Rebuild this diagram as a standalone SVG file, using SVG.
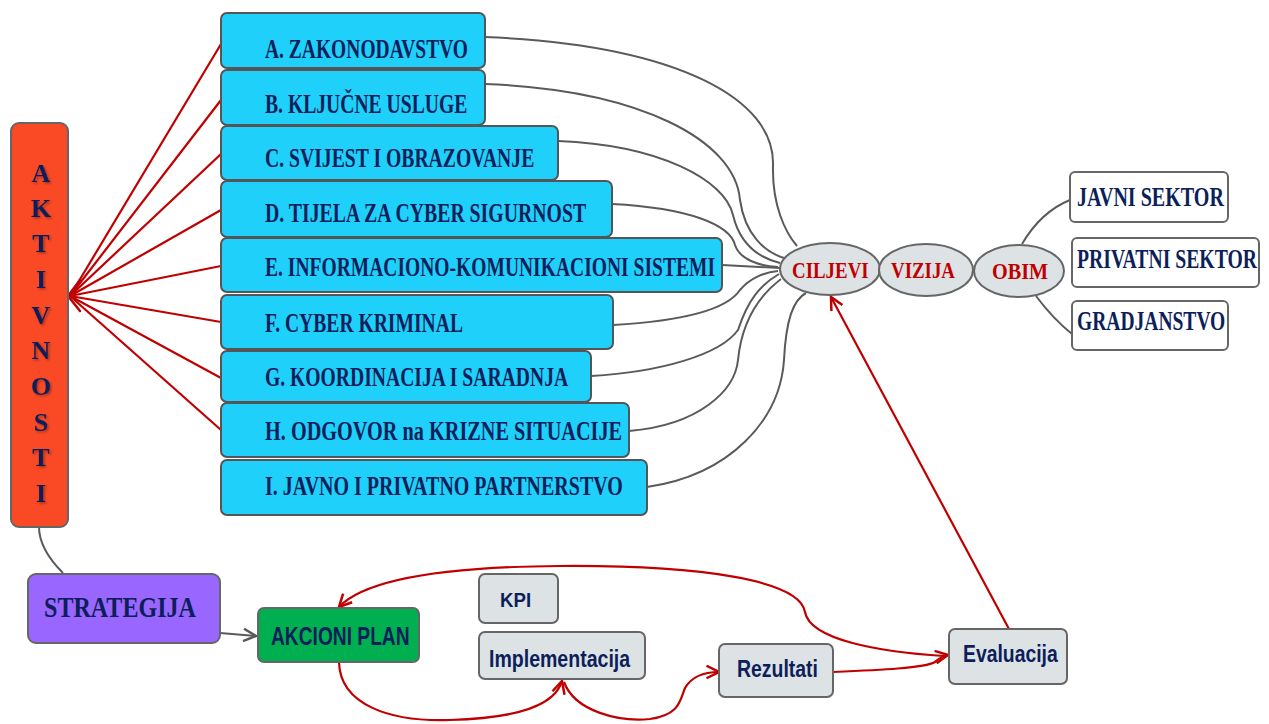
<svg xmlns="http://www.w3.org/2000/svg" width="1269" height="724" viewBox="0 0 1269 724">
<defs>
<style>
.cy{fill:#1fd0fb;stroke:#555;stroke-width:2}
.gr{fill:#dde2e5;stroke:#666;stroke-width:2}
.wh{fill:#fff;stroke:#666;stroke-width:2}
.st{font-family:"Liberation Serif","Times New Roman",serif;font-weight:bold;fill:#0c1f5a}
.ss{font-family:"Liberation Sans",Arial,sans-serif;font-weight:bold;fill:#0c1f5a}
.rt{font-family:"Liberation Serif","Times New Roman",serif;font-weight:bold;fill:#c00000}
.gl{fill:none;stroke:#5a5a5a;stroke-width:2}
.rl{fill:none;stroke:#c00000;stroke-width:2.2}
.ah{fill:none;stroke:#c00000;stroke-width:2.5;stroke-linecap:round;stroke-linejoin:round}
</style>
<marker id="ar" viewBox="0 0 12 12" refX="11" refY="6" markerWidth="15" markerHeight="15" markerUnits="userSpaceOnUse" orient="auto">
<path d="M1,1 L11,6 L1,11" fill="none" stroke="#c00000" stroke-width="2"/>
</marker>
<marker id="ag" viewBox="0 0 12 12" refX="11" refY="6" markerWidth="15" markerHeight="15" markerUnits="userSpaceOnUse" orient="auto">
<path d="M1,1 L11,6 L1,11" fill="none" stroke="#5a5a5a" stroke-width="2"/>
</marker>
<filter id="sh" x="-20%" y="-20%" width="140%" height="140%">
<feDropShadow dx="1.5" dy="1.5" stdDeviation="1" flood-color="#000" flood-opacity="0.35"/>
</filter>
</defs>
<rect width="1269" height="724" fill="#fff"/>

<g id="connectors">
<path class="rl" d="M221,44 L70,296"/>
<path class="rl" d="M221,100 L70,296"/>
<path class="rl" d="M221,154 L70,296"/>
<path class="rl" d="M221,210 L70,296"/>
<path class="rl" d="M221,266 L70,296"/>
<path class="rl" d="M221,322 L70,296"/>
<path class="rl" d="M221,378 L70,296"/>
<path class="rl" d="M221,430 L70,296"/>
<path class="ah" d="M80,280 L68,296 L80,311"/>

<path class="gl" d="M485,37 C680,45 775,100 773,165 C772,205 785,232 797,246"/>
<path class="gl" d="M485,84 C640,90 735,140 740,200 C745,235 765,252 784,258"/>
<path class="gl" d="M558,141 C660,145 725,180 733,215 C740,245 760,258 780,263"/>
<path class="gl" d="M612,204 C690,208 730,225 735,245 C740,260 760,266 778,267"/>
<path class="gl" d="M722,265 L780,268"/>
<path class="gl" d="M613,325 C700,320 730,305 740,290 C750,278 765,272 778,271"/>
<path class="gl" d="M591,376 C660,372 720,355 738,330 C748,300 760,285 779,274"/>
<path class="gl" d="M629,431 C700,425 735,390 738,360 C742,320 760,295 781,279"/>
<path class="gl" d="M647,487 C730,475 780,420 784,360 C786,320 793,300 806,293"/>

<path class="gl" d="M1022,244 C1035,222 1050,208 1070,200"/>
<path class="gl" d="M1036,296 C1048,312 1062,326 1072,334"/>

<path class="gl" d="M39,527 C39,545 50,560 63,573"/>
<path class="gl" d="M220,633 L256,636" marker-end="url(#ag)"/>

<path class="rl" d="M1009,629 L831,297" marker-end="url(#ar)"/>
<path class="rl" d="M944,656 C880,652 810,640 805,612 C800,580 700,565 560,566 C420,567 360,585 339,607" marker-end="url(#ar)"/>
<path class="rl" d="M339,662 C340,705 390,722 450,720 C520,718 555,705 562,681" marker-end="url(#ar)"/>
<path class="rl" d="M564,682 C575,712 620,722 650,719 C680,715 680,700 685,688 C692,676 705,672 719,672" marker-end="url(#ar)"/>
<path class="rl" d="M833,672 C880,670 925,668 935,662 C940,658 942,656 948,655" marker-end="url(#ar)"/>
</g>

<g id="aktivnosti">
<rect x="11" y="123" width="57" height="404" rx="8" fill="#f94a25" stroke="#666" stroke-width="2"/>
<g class="st" font-size="26" text-anchor="middle" filter="url(#sh)" fill="#10244a">
<text x="41" y="182">A</text>
<text x="41" y="217">K</text>
<text x="41" y="252">T</text>
<text x="41" y="288">I</text>
<text x="41" y="324">V</text>
<text x="41" y="359">N</text>
<text x="41" y="395">O</text>
<text x="41" y="431">S</text>
<text x="41" y="466">T</text>
<text x="41" y="502">I</text>
</g>
</g>

<g id="box-a"><rect class="cy" x="221" y="13" width="264" height="55" rx="6"/><text class="st" transform="translate(265,58) scale(0.72,1)" font-size="27" textLength="282" lengthAdjust="spacingAndGlyphs">A. ZAKONODAVSTVO</text></g>
<g id="box-b"><rect class="cy" x="221" y="70" width="264" height="55" rx="6"/><text class="st" transform="translate(265,113) scale(0.72,1)" font-size="27" textLength="281" lengthAdjust="spacingAndGlyphs">B. KLJUČNE USLUGE</text></g>
<g id="box-c"><rect class="cy" x="221" y="126" width="337" height="54" rx="6"/><text class="st" transform="translate(265,167) scale(0.72,1)" font-size="27" textLength="374" lengthAdjust="spacingAndGlyphs">C. SVIJEST I OBRAZOVANJE</text></g>
<g id="box-d"><rect class="cy" x="221" y="181" width="391" height="56" rx="6"/><text class="st" transform="translate(265,222) scale(0.72,1)" font-size="27" textLength="446" lengthAdjust="spacingAndGlyphs">D. TIJELA ZA  CYBER SIGURNOST</text></g>
<g id="box-e"><rect class="cy" x="221" y="238" width="501" height="54" rx="6"/><text class="st" transform="translate(265,276) scale(0.72,1)" font-size="27" textLength="625" lengthAdjust="spacingAndGlyphs">E. INFORMACIONO-KOMUNIKACIONI SISTEMI</text></g>
<g id="box-f"><rect class="cy" x="221" y="295" width="392" height="54" rx="6"/><text class="st" transform="translate(265,332) scale(0.72,1)" font-size="27" textLength="275" lengthAdjust="spacingAndGlyphs">F. CYBER KRIMINAL</text></g>
<g id="box-g"><rect class="cy" x="221" y="351" width="370" height="51" rx="6"/><text class="st" transform="translate(265,386) scale(0.72,1)" font-size="27" textLength="421" lengthAdjust="spacingAndGlyphs">G. KOORDINACIJA I SARADNJA</text></g>
<g id="box-h"><rect class="cy" x="221" y="403" width="408" height="54" rx="6"/><text class="st" transform="translate(265,440) scale(0.72,1)" font-size="27" textLength="496" lengthAdjust="spacingAndGlyphs">H. ODGOVOR na KRIZNE SITUACIJE</text></g>
<g id="box-i"><rect class="cy" x="221" y="460" width="426" height="55" rx="6"/><text class="st" transform="translate(265,495) scale(0.72,1)" font-size="27" textLength="497" lengthAdjust="spacingAndGlyphs">I. JAVNO I PRIVATNO PARTNERSTVO</text></g>

<g id="ciljevi"><ellipse class="gr" cx="830" cy="269" rx="50" ry="26"/><text class="rt" transform="translate(792,278) scale(0.79,1)" font-size="24" textLength="97" lengthAdjust="spacingAndGlyphs">CILJEVI</text></g>
<g id="vizija"><ellipse class="gr" cx="926" cy="270" rx="47" ry="26"/><text class="rt" transform="translate(891,278) scale(0.79,1)" font-size="24" textLength="81" lengthAdjust="spacingAndGlyphs">VIZIJA</text></g>
<g id="obim"><ellipse class="gr" cx="1019" cy="271" rx="45" ry="26"/><text class="rt" transform="translate(992,279) scale(0.79,1)" font-size="24" textLength="71" lengthAdjust="spacingAndGlyphs">OBIM</text></g>

<g id="javni-sektor"><rect class="wh" x="1070" y="172" width="158" height="50" rx="5"/><text class="st" transform="translate(1077,206) scale(0.72,1)" font-size="27" textLength="204" lengthAdjust="spacingAndGlyphs">JAVNI SEKTOR</text></g>
<g id="privatni-sektor"><rect class="wh" x="1072" y="238" width="187" height="49" rx="5"/><text class="st" transform="translate(1077,268) scale(0.72,1)" font-size="27" textLength="250" lengthAdjust="spacingAndGlyphs">PRIVATNI SEKTOR</text></g>
<g id="gradjanstvo"><rect class="wh" x="1072" y="301" width="156" height="49" rx="5"/><text class="st" transform="translate(1077,330) scale(0.72,1)" font-size="27" textLength="206" lengthAdjust="spacingAndGlyphs">GRADJANSTVO</text></g>

<g id="strategija"><rect x="28" y="574" width="192" height="69" rx="8" fill="#9966ff" stroke="#666" stroke-width="2"/><text class="st" transform="translate(44,617) scale(0.72,1)" font-size="29" textLength="211" lengthAdjust="spacingAndGlyphs">STRATEGIJA</text></g>
<g id="akcioni-plan"><rect x="258" y="608" width="161" height="54" rx="6" fill="#00b050" stroke="#666" stroke-width="2"/><text class="ss" transform="translate(271,645) scale(0.77,1)" font-size="25" textLength="180" lengthAdjust="spacingAndGlyphs">AKCIONI PLAN</text></g>
<g id="kpi"><rect class="gr" x="479" y="574" width="79" height="49" rx="6"/><text class="ss" transform="translate(500,607) scale(0.89,1)" font-size="21" textLength="35" lengthAdjust="spacingAndGlyphs">KPI</text></g>
<g id="implementacija"><rect class="gr" x="479" y="632" width="166" height="47" rx="6"/><text class="ss" transform="translate(489,667) scale(0.85,1)" font-size="23" textLength="166" lengthAdjust="spacingAndGlyphs">Implementacija</text></g>
<g id="rezultati"><rect class="gr" x="719" y="644" width="114" height="53" rx="6"/><text class="ss" transform="translate(737,677) scale(0.81,1)" font-size="24" textLength="100" lengthAdjust="spacingAndGlyphs">Rezultati</text></g>
<g id="evaluacija"><rect class="gr" x="949" y="629" width="118" height="55" rx="6"/><text class="ss" transform="translate(963,662) scale(0.81,1)" font-size="24" textLength="117" lengthAdjust="spacingAndGlyphs">Evaluacija</text></g>
</svg>
